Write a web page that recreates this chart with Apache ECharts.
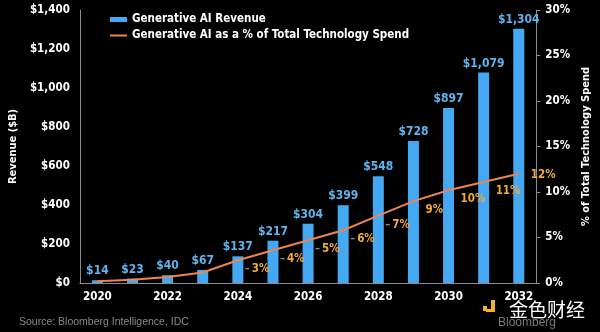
<!DOCTYPE html>
<html>
<head>
<meta charset="utf-8">
<style>
html,body{margin:0;padding:0;background:#000;}
#chart{width:600px;height:332px;}
</style>
<script src="https://cdn.jsdelivr.net/npm/echarts@6/dist/echarts.min.js"></script>
</head>
<body>
<div id="chart"></div>
<script>
const years = ['2020','2021','2022','2023','2024','2025','2026','2027','2028','2029','2030','2031','2032'];
const revenue = [14, 23, 40, 67, 137, 217, 304, 399, 548, 728, 897, 1079, 1304];
const sharePct = [0.2, 0.35, 0.65, 1.15, 2.5, 3.6, 4.7, 5.8, 7.4, 9.0, 10.2, 11.1, 12.0];
const shareLabels = ['', '', '', '', '3%', '4%', '5%', '6%', '7%', '9%', '10%', '11%', '12%'];
const shareLeader = [false, false, false, false, true, true, true, true, true, false, false, false, false];
const revenueAxis = { min: 0, max: 1400, interval: 200 };
const shareAxis = { min: 0, max: 30, interval: 5 };

const FONT = '"DejaVu Sans Condensed", "DejaVu Sans", sans-serif';
const WHITE = '#ffffff';
const AXIS_GRAY = '#8c8c8c';
const BAR_COLOR = '#45a8f2';
const BAR_LABEL = '#5fb4ee';
const LINE_COLOR = '#ec8550';
const PCT_LABEL = '#f2a93b';

function money(v) {
  return '$' + String(v).replace(/\B(?=(\d{3})+(?!\d))/g, ',');
}

const lineData = sharePct.map((v, i) => {
  if (i === sharePct.length - 1) {
    return { value: v, label: { offset: [0, 1] } };
  }
  if (shareLeader[i]) {
    return { value: v, label: { distance: 6 } };
  }
  return v;
});

const chart = echarts.init(document.getElementById('chart'), null, { renderer: 'canvas' });
chart.setOption({
  backgroundColor: '#000000',
  animation: false,
  textStyle: { fontFamily: FONT },
  grid: { left: 74, right: 57, top: 10, bottom: 49, containLabel: false },
  legend: {
    orient: 'vertical',
    left: 109,
    top: 13,
    padding: 0,
    itemWidth: 17,
    itemHeight: 5,
    itemGap: 3,
    selectedMode: false,
    textStyle: { color: WHITE, fontWeight: 'bold', fontSize: 11.5, fontFamily: FONT, lineHeight: 13 },
    data: [
      { name: 'Generative AI Revenue', icon: 'rect' },
      { name: 'Generative AI as a % of Total Technology Spend', itemStyle: { opacity: 0 } }
    ]
  },
  xAxis: {
    type: 'category',
    data: years,
    boundaryGap: true,
    axisLine: { show: true, lineStyle: { color: AXIS_GRAY, width: 1 } },
    axisTick: { show: false },
    axisLabel: { interval: 1, color: WHITE, fontWeight: 'bold', fontSize: 11.5, fontFamily: FONT, margin: 8 },
    splitLine: { show: false }
  },
  yAxis: [
    {
      type: 'value',
      min: revenueAxis.min, max: revenueAxis.max, interval: revenueAxis.interval,
      name: 'Revenue ($B)',
      nameLocation: 'middle',
      nameRotate: 90,
      nameGap: 60,
      nameTextStyle: { color: WHITE, fontWeight: 'bold', fontSize: 11, fontFamily: FONT },
      axisLine: { show: true, lineStyle: { color: AXIS_GRAY, width: 1 } },
      axisTick: { show: false },
      axisLabel: { color: WHITE, fontWeight: 'bold', fontSize: 11.5, fontFamily: FONT, margin: 10, formatter: money },
      splitLine: { show: false }
    },
    {
      type: 'value',
      position: 'right',
      min: shareAxis.min, max: shareAxis.max, interval: shareAxis.interval,
      name: '% of Total Technology Spend',
      nameLocation: 'middle',
      nameRotate: 90,
      nameGap: 38,
      nameTextStyle: { color: WHITE, fontWeight: 'bold', fontSize: 11, fontFamily: FONT },
      axisLine: { show: true, lineStyle: { color: AXIS_GRAY, width: 1 } },
      axisTick: { show: true, length: 4, inside: false, lineStyle: { color: AXIS_GRAY } },
      axisLabel: { color: WHITE, fontWeight: 'bold', fontSize: 11.5, fontFamily: FONT, margin: 9, formatter: '{value}%' },
      splitLine: { show: false }
    }
  ],
  series: [
    {
      name: 'Generative AI Revenue',
      type: 'bar',
      yAxisIndex: 0,
      data: revenue,
      barWidth: 11,
      itemStyle: { color: BAR_COLOR },
      label: {
        show: true,
        position: 'top',
        distance: 3,
        color: BAR_LABEL,
        fontWeight: 'bold',
        fontSize: 12,
        fontFamily: FONT,
        formatter: p => money(p.value)
      },
      z: 2
    },
    {
      name: 'Generative AI as a % of Total Technology Spend',
      type: 'line',
      yAxisIndex: 1,
      data: lineData,
      symbol: 'circle',
      symbolSize: 2,
      showSymbol: true,
      showAllSymbol: true,
      lineStyle: { color: LINE_COLOR, width: 2 },
      itemStyle: { color: 'rgba(0,0,0,0)', borderWidth: 0 },
      label: {
        show: true,
        position: 'right',
        distance: 11,
        offset: [0, 9],
        color: PCT_LABEL,
        fontWeight: 'bold',
        fontSize: 11,
        fontFamily: FONT,
        formatter: p => {
          const t = shareLabels[p.dataIndex];
          if (!t) return '';
          return shareLeader[p.dataIndex] ? '{l|–}{p|' + t + '}' : '{p|' + t + '}';
        },
        rich: {
          l: { color: '#8a8a8a', fontSize: 11, fontFamily: FONT, padding: [0, 2, 0, 0] },
          p: { color: PCT_LABEL, fontWeight: 'bold', fontSize: 11.5, fontFamily: FONT }
        }
      },
      z: 3
    }
  ],
  graphic: [
    {
      type: 'text',
      left: 19,
      top: 317,
      style: { text: 'Source: Bloomberg Intelligence, IDC', fill: '#8a8a8a', font: '10.5px "Liberation Sans", sans-serif' }
    },
    { type: 'rect', shape: { x: 483, y: 306, width: 4, height: 5 }, style: { fill: '#f5b321' } },
    { type: 'rect', shape: { x: 491, y: 300, width: 4, height: 12 }, style: { fill: '#f5b321' } },
    { type: 'rect', shape: { x: 486, y: 309, width: 8, height: 3 }, style: { fill: '#f5b321' } },
    {
      type: 'text',
      left: 509,
      top: 300,
      style: { text: '金色财经', fill: '#ffffff', font: '19px "Noto Sans CJK SC", sans-serif' }
    },
    {
      type: 'text',
      left: 498,
      top: 317,
      style: { text: 'Bloomberg', fill: '#7a7a7a', font: '12px "Liberation Sans", sans-serif' }
    }
  ]
});
</script>
</body>
</html>
